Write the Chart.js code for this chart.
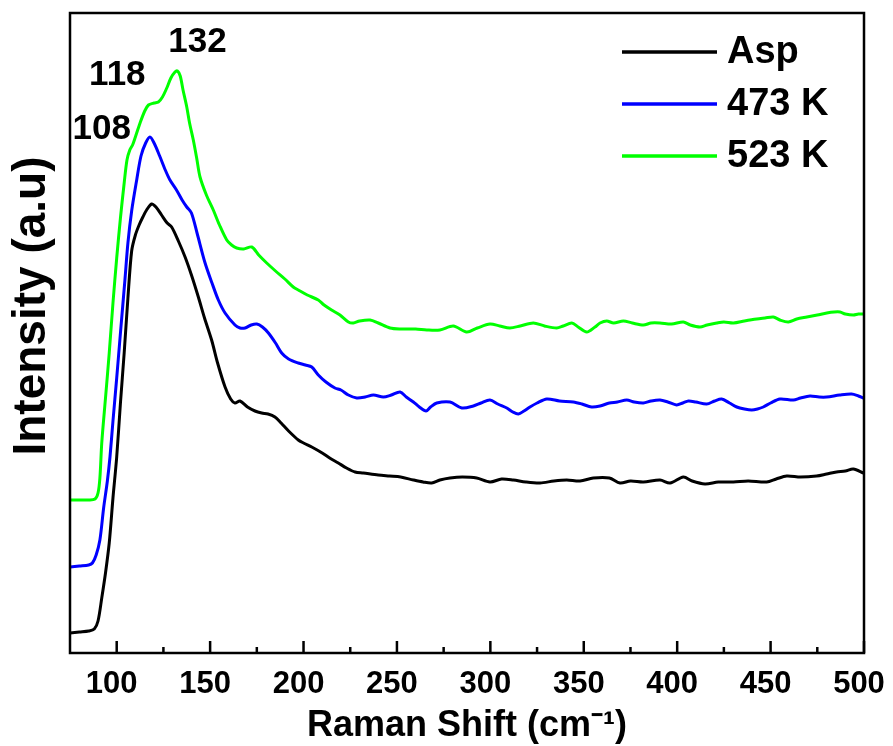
<!DOCTYPE html>
<html>
<head>
<meta charset="utf-8">
<script src="https://cdn.jsdelivr.net/npm/chart.js@4/dist/chart.umd.min.js"></script>
<style>
  body { margin: 0; background: #fff; }
  #wrap { width: 893px; height: 746px; }
</style>
</head>
<body>
<div id="wrap"><canvas id="ramanChart" width="893" height="746"></canvas></div>
<script>
// Raman shift (cm-1) and intensity (a.u.)
var aspShift = [75, 80, 85, 88, 90, 92, 94, 96, 98, 100, 102, 104, 106, 108, 110, 112, 114, 116, 118.7, 121, 124, 127, 129.4, 133, 136.6, 140, 143.7, 147, 150.8, 154, 158, 161, 163.3, 166, 170, 174, 177.6, 181, 184.7, 188, 192, 197.2, 200, 204.4, 210, 214, 218.6, 223, 227.6, 232, 240, 246, 252, 258.8, 264, 268.6, 273, 278.4, 285, 292.7, 299.8, 306, 312.3, 319, 326.6, 334, 340.9, 348, 355.1, 363.7, 369.4, 375, 381.9, 390.8, 396.2, 403.3, 408, 414.9, 422, 430.1, 438, 447.9, 453, 458.6, 466, 474.6, 480, 485.3, 490, 494.3, 499.7];
var aspInt = [20, 21, 22, 24, 32, 55, 80, 110, 155, 196, 250, 300, 355, 402, 418, 428, 436, 443, 449, 446, 438, 430, 426, 412, 396, 378, 356, 335, 313, 290, 266, 254, 250, 252, 246, 242, 240, 239, 236, 230, 222, 213, 210, 206, 200, 195, 190, 185, 181, 180, 178, 177, 176, 173, 171, 170, 173, 175, 176, 175, 171, 174, 173, 171, 170, 172, 173, 172, 175, 175, 170, 172, 171, 173, 170, 176, 172, 169, 171, 171, 172, 171, 174, 177, 176, 177, 179, 181, 182, 184, 180];

var k473Shift = [75, 80, 85, 87, 89, 91, 93, 95, 96.4, 98, 100, 102, 104.4, 106, 108, 110.7, 113, 115.5, 117.8, 120, 123, 126, 128.5, 132, 135, 137.5, 140, 143, 147.3, 151, 154.4, 158, 163.3, 166, 168.7, 172, 175, 178, 181.2, 185, 188.3, 192, 197.2, 201, 204.4, 207.9, 212, 216.8, 220, 224, 228.5, 233, 237.4, 242.7, 247, 251.7, 255, 258.8, 262, 265.6, 268, 271.3, 278.4, 284.7, 290.9, 295, 299.8, 304, 308.8, 312, 315, 318, 321.2, 325, 330.2, 337, 344.4, 349, 354.2, 358.7, 363.7, 368, 373, 377, 381.9, 386, 390.8, 395, 399.7, 403, 406, 410, 415.8, 420, 423.8, 428, 431.9, 436, 439.9, 443, 446.1, 450, 455, 462.2, 466, 471.1, 476, 480, 487, 493.4, 497, 499.7];
var k473Int = [86, 87, 88, 90, 98, 113, 145, 172, 196, 232, 275, 320, 373, 410, 442, 473, 497, 510, 516, 510, 497, 483, 473, 463, 453, 446, 440, 420, 390, 370, 353, 340, 328, 325, 325, 328, 329, 326, 320, 310, 300, 294, 290, 288, 286, 278, 271, 265, 263, 258, 255, 256, 258, 256, 258, 261, 256, 251, 246, 242, 246, 250, 251, 245, 247, 250, 253, 249, 245, 241, 239, 242, 246, 250, 254, 252, 251, 249, 246, 247, 250, 251, 253, 251, 250, 252, 253, 251, 248, 250, 252, 251, 249, 252, 254, 250, 246, 244, 243, 244, 246, 250, 254, 253, 255, 257, 256, 256, 258, 259, 257, 255];

var k523Shift = [75, 80, 85, 88.4, 90, 91, 92, 94, 96, 98, 100, 102, 104, 105.5, 107, 108.5, 110, 112.5, 115, 117, 120, 122.3, 124.5, 126.8, 129, 131.2, 132.5, 134, 135.5, 137.5, 139, 141, 142.8, 144.6, 148, 151.7, 155, 158.9, 161.5, 164.2, 168, 172.3, 176, 180.3, 185, 190, 194.5, 197.2, 202, 207.9, 211, 215, 219.5, 224, 226.7, 230, 235.6, 240, 246.3, 252, 260, 266, 273, 280.2, 287.3, 293, 299.8, 305, 310.5, 316, 323, 329, 335.5, 339, 343.6, 347, 351.6, 356, 358.7, 362.3, 366, 371.2, 376, 381.9, 386, 390.8, 397, 403.3, 407, 412.2, 416, 421.2, 425, 430.1, 436, 442.6, 447, 451.5, 455, 459.5, 464, 469.4, 475, 480.1, 484, 487.2, 490, 494.3, 497, 499.7];
var k523Int = [153, 153, 153, 154, 160, 175, 210, 255, 300, 350, 395, 435, 470, 493, 503, 508, 516, 530, 542, 548, 550, 551, 556, 565, 575, 581, 582, 577, 563, 546, 530, 513, 495, 476, 458, 443, 428, 413, 408, 405, 404, 406, 398, 390, 382, 374, 366, 363, 358, 353, 348, 343, 338, 331, 330, 332, 333, 330, 325, 324, 324, 323, 323, 327, 321, 325, 329, 327, 325, 327, 330, 327, 325, 327, 330, 326, 321, 326, 330, 332, 330, 332, 330, 328, 330, 330, 329, 331, 328, 326, 328, 330, 331, 330, 332, 334, 335, 336, 333, 331, 334, 336, 338, 340, 341, 341, 339, 338, 339, 339];

var seriesLabels = ['Asp', '473 K', '523 K'];
var seriesColors = ['#000000', '#0000ff', '#00ff00'];

var xTicks = [100, 150, 200, 250, 300, 350, 400, 450, 500];
var xMinorTicks = [125, 175, 225, 275, 325, 375, 425, 475];

// peak labels on the 523 K curve
var peakLabels = ['108', '118', '132'];
var peakShift = [108, 118, 132];
var peakInt = [508, 549, 582];
var peakOffsetX = [-30, -33, 21];
var peakOffsetY = [-16, -29, -29];

var FONT = "'Liberation Sans', Arial, sans-serif";

function toPoints(xs, ys) {
    return xs.map(function (x, i) { return { x: x, y: ys[i] }; });
}

// frame, inward ticks, legend, y title and peak labels
var decorPlugin = {
    id: 'decor',
    afterDraw: function (chart) {
        var ctx = chart.ctx;
        var area = chart.chartArea;
        var xs = chart.scales.x;
        ctx.save();

        // frame
        ctx.strokeStyle = '#000';
        ctx.lineWidth = 2.5;
        ctx.strokeRect(area.left, area.top, area.right - area.left, area.bottom - area.top);

        // ticks pointing inward
        ctx.lineWidth = 2.5;
        ctx.beginPath();
        xTicks.forEach(function (v) {
            var px = xs.getPixelForValue(v);
            ctx.moveTo(px, area.bottom);
            ctx.lineTo(px, area.bottom - 12);
        });
        xMinorTicks.forEach(function (v) {
            var px = xs.getPixelForValue(v);
            ctx.moveTo(px, area.bottom);
            ctx.lineTo(px, area.bottom - 6);
        });
        ctx.stroke();

        // legend
        ctx.font = 'bold 38px ' + FONT;
        ctx.textAlign = 'left';
        ctx.textBaseline = 'middle';
        chart.data.datasets.forEach(function (ds, i) {
            var y = 52 + i * 52;
            ctx.strokeStyle = ds.borderColor;
            ctx.lineWidth = 3.5;
            ctx.beginPath();
            ctx.moveTo(622, y);
            ctx.lineTo(717, y);
            ctx.stroke();
            ctx.fillStyle = '#000';
            ctx.fillText(ds.label, 727, y + 1);
        });

        // peak labels
        var ys = chart.scales.y;
        ctx.font = 'bold 35px ' + FONT;
        ctx.textAlign = 'center';
        peakLabels.forEach(function (t, i) {
            var px = xs.getPixelForValue(peakShift[i]) + peakOffsetX[i];
            var py = ys.getPixelForValue(peakInt[i]) + peakOffsetY[i];
            ctx.fillText(t, px, py);
        });

        // y axis title
        ctx.translate(32, 306);
        ctx.rotate(-Math.PI / 2);
        ctx.font = 'bold 46px ' + FONT;
        ctx.fillText('Intensity (a.u)', 0, 0);
        ctx.restore();
    }
};

var ctx = document.getElementById('ramanChart').getContext('2d');

var ramanChart = new Chart(ctx, {
    type: 'line',
    data: {
        datasets: [
            { label: seriesLabels[0], data: toPoints(aspShift, aspInt), borderColor: seriesColors[0] },
            { label: seriesLabels[1], data: toPoints(k473Shift, k473Int), borderColor: seriesColors[1] },
            { label: seriesLabels[2], data: toPoints(k523Shift, k523Int), borderColor: seriesColors[2] }
        ]
    },
    options: {
        responsive: false,
        animation: false,
        layout: { padding: { top: 13, right: 29, left: 0, bottom: 0 } },
        elements: {
            line: { borderWidth: 3, tension: 0.3, fill: false },
            point: { radius: 0 }
        },
        plugins: {
            legend: { display: false },
            tooltip: { enabled: false }
        },
        scales: {
            x: {
                type: 'linear',
                min: 75,
                max: 500,
                afterBuildTicks: function (scale) {
                    scale.ticks = xTicks.map(function (v) { return { value: v }; });
                },
                afterFit: function (scale) {
                    scale.height = 93;
                    scale.paddingLeft = 0;
                    scale.paddingRight = 0;
                },
                grid: { display: false },
                border: { display: false },
                ticks: {
                    color: '#000',
                    padding: 5,
                    labelOffset: -5,
                    maxRotation: 0,
                    font: { family: FONT, size: 31, weight: 'bold' }
                },
                title: {
                    display: true,
                    text: 'Raman Shift (cm\u207B\u00B9)',
                    color: '#000',
                    padding: { top: 0, bottom: 2 },
                    font: { family: FONT, size: 36, weight: 'bold', lineHeight: 1.0 }
                }
            },
            y: {
                type: 'linear',
                min: 0,
                max: 640,
                afterFit: function (scale) { scale.width = 70; },
                grid: { display: false },
                border: { display: false },
                ticks: { display: false }
            }
        }
    },
    plugins: [decorPlugin]
});
</script>
</body>
</html>
